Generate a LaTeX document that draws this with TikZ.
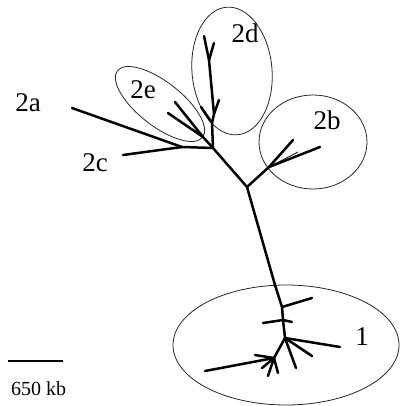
\documentclass[tikz,border=0pt]{standalone}
\usepackage{fontspec}
\setmainfont{Liberation Serif}
\begin{document}
\begin{tikzpicture}[x=1pt,y=-1pt,
  br/.style={line width=2.5pt,line cap=round,line join=round},
  thin br/.style={line width=0.8pt},
  clus/.style={line width=0.8pt,draw=black!85},
  lab/.style={font=\fontsize{27}{27}\selectfont,inner sep=0pt},
  scl/.style={font=\fontsize{20}{20}\selectfont,inner sep=0pt}]
\useasboundingbox (0,0) rectangle (400,406);
% cluster ellipses
\draw[clus,shift={(160,104)},rotate=-38] (0,0) ellipse [x radius=54,y radius=22];
\draw[clus,shift={(232,71)},rotate=5] (0,0) ellipse [x radius=40,y radius=64];
\draw[clus] (313,142) ellipse [x radius=54,y radius=47];
\draw[clus] (286,345) ellipse [x radius=113,y radius=60];
% coordinates
\coordinate (J) at (213,148);
\coordinate (A1) at (182,147);
\coordinate (a) at (72,108);
\coordinate (c) at (123,155);
\coordinate (E0) at (203,137);
\coordinate (e1) at (175,102);
\coordinate (e2) at (168,113);
\coordinate (d1) at (212,123);
\coordinate (d1b) at (214,114);
\coordinate (d2) at (209,60);
\coordinate (dtop) at (204,36);
\coordinate (dfork) at (214,43);
\coordinate (ds1) at (201,107);
\coordinate (ds2) at (219,100);
\coordinate (T) at (247,187);
\coordinate (B) at (269,167);
\coordinate (b1) at (293,140);
\coordinate (b2) at (320,147);
\coordinate (t0) at (275,285);
\coordinate (t1) at (282,307);
\coordinate (t2) at (283,320);
\coordinate (N) at (285,338);
\coordinate (u1) at (312,298);
\coordinate (u2) at (263,323);
\coordinate (u3) at (292,322);
\coordinate (n1) at (340,347);
\coordinate (n2) at (312,356);
\coordinate (n3) at (296,368);
\coordinate (L) at (274,358);
\coordinate (l1) at (268,376);
\coordinate (l2) at (278,373);
\coordinate (k0) at (205,371);
\coordinate (k1) at (255,355);
\coordinate (k2) at (262,368);
% tree branches
\draw[br] (a) -- (A1) -- (J);
\draw[br] (c) -- (A1);
\draw[br] (J) -- (E0) -- (e1);
\draw[br] (E0) -- (e2);
\draw[br] (J) -- (d1) -- (d1b) -- (d2) -- (dtop);
\draw[br] (d2) -- (dfork);
\draw[br] (d1) -- (ds1);
\draw[br] (d1b) -- (ds2);
\draw[br] (J) -- (T) -- (t0) -- (t1) -- (t2) -- (N);
\draw[br] (T) -- (B) -- (b1);
\draw[br] (B) -- (b2);
\draw[thin br] (B) -- (298,152);
\draw[thin br] (B) -- (300,155);
\draw[br] (t1) -- (u1);
\draw[br] (u2) -- (t2) -- (u3);
\draw[br] (N) -- (n1);
\draw[br] (N) -- (n2);
\draw[br] (N) -- (n3);
\draw[br] (N) -- (L) -- (l1);
\draw[br] (L) -- (l2);
\draw[br] (k0) -- (L);
\draw[br] (k1) -- (L);
\draw[br] (k2) -- (L);
% labels
\node[lab] (l2a) at (28,103) {2a};
\node[lab] (l2c) at (95,163) {2c};
\node[lab] (l2e) at (143,90) {2e};
\node[lab] (l2d) at (245,33) {2d};
\node[lab] (l2b) at (327,120) {2b};
\node[lab] (l1) at (362,337) {1};
% scale bar
\coordinate (s0) at (8,361);
\coordinate (s1) at (63,361);
\draw[line width=2pt] (s0) -- (s1);
\node[scl,anchor=west] (sc) at (11,389) {650 kb};
\end{tikzpicture}
\end{document}
